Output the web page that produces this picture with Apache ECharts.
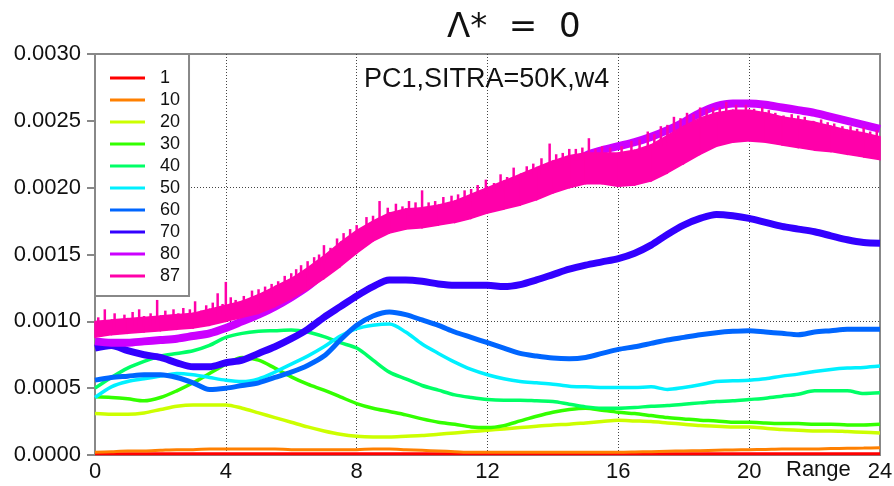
<!DOCTYPE html>
<html>
<head>
<meta charset="utf-8">
<title>PC1, SITRA=50K, w4</title>
<script src="https://cdn.jsdelivr.net/npm/echarts@6/dist/echarts.min.js"></script>
<style>
  html, body { margin: 0; padding: 0; background: #fff; }
  #chart { width: 894px; height: 486px; }
</style>
</head>
<body>
<div id="chart"></div>
<script>
// x positions (Range)
const xs = [0, 0.5, 1, 1.5, 2, 2.5, 3, 3.5, 4, 4.5, 5, 5.5, 6, 6.5, 7, 7.5, 8, 8.5, 9, 9.5, 10, 10.5, 11, 11.5, 12,
  12.5, 13, 13.5, 14, 14.5, 15, 15.5, 16, 16.5, 17, 17.5, 18, 18.5, 19, 19.5, 20, 20.5, 21, 21.5, 22, 22.5, 23, 23.5, 24];

const labels = ["1", "10", "20", "30", "40", "50", "60", "70", "80", "87"];
const colors = ["#ff0000", "#ff8000", "#ccff00", "#33ff00", "#00ff66", "#00f0ff", "#0066ff", "#3300ff", "#cc00ff", "#ff00aa"];
const yTicks = [0, 0.0005, 0.001, 0.0015, 0.002, 0.0025, 0.003];
const xTicks = [0, 4, 8, 12, 16, 20, 24];

const s1 = [0.1e-4, 0.1e-4, 0.1e-4, 0.1e-4, 0.1e-4, 0.1e-4, 0.1e-4, 0.1e-4, 0.1e-4, 0.1e-4, 0.1e-4, 0.1e-4, 0.1e-4,
  0.1e-4, 0.1e-4, 0.1e-4, 0.1e-4, 0.1e-4, 0.1e-4, 0.1e-4, 0.1e-4, 0.1e-4, 0.1e-4, 0.1e-4, 0.1e-4, 0.1e-4, 0.1e-4,
  0.1e-4, 0.1e-4, 0.1e-4, 0.1e-4, 0.1e-4, 0.1e-4, 0.1e-4, 0.1e-4, 0.1e-4, 0.1e-4, 0.1e-4, 0.1e-4, 0.1e-4, 0.1e-4,
  0.1e-4, 0.1e-4, 0.1e-4, 0.1e-4, 0.1e-4, 0.1e-4, 0.1e-4, 0.1e-4];
const s10 = [0.2e-4, 0.25e-4, 0.3e-4, 0.3e-4, 0.35e-4, 0.4e-4, 0.4e-4, 0.45e-4, 0.45e-4, 0.45e-4, 0.45e-4, 0.45e-4, 0.4e-4,
  0.4e-4, 0.4e-4, 0.4e-4, 0.4e-4, 0.45e-4, 0.45e-4, 0.4e-4, 0.35e-4, 0.3e-4, 0.25e-4, 0.2e-4, 0.2e-4, 0.2e-4, 0.2e-4,
  0.2e-4, 0.2e-4, 0.2e-4, 0.2e-4, 0.2e-4, 0.2e-4, 0.22e-4, 0.25e-4, 0.28e-4, 0.3e-4, 0.32e-4, 0.35e-4, 0.38e-4, 0.4e-4,
  0.42e-4, 0.45e-4, 0.45e-4, 0.45e-4, 0.48e-4, 0.5e-4, 0.52e-4, 0.55e-4];
const s20 = [3.1e-4, 3.05e-4, 3.05e-4, 3.15e-4, 3.4e-4, 3.65e-4, 3.75e-4, 3.75e-4, 3.75e-4, 3.5e-4, 3.15e-4, 2.8e-4, 2.45e-4,
  2.1e-4, 1.8e-4, 1.55e-4, 1.4e-4, 1.35e-4, 1.35e-4, 1.4e-4, 1.45e-4, 1.55e-4, 1.65e-4, 1.75e-4, 1.85e-4, 1.95e-4, 2.05e-4,
  2.15e-4, 2.25e-4, 2.3e-4, 2.4e-4, 2.5e-4, 2.6e-4, 2.55e-4, 2.5e-4, 2.4e-4, 2.3e-4, 2.2e-4, 2.15e-4, 2.1e-4, 2.1e-4,
  2.0e-4, 1.9e-4, 1.85e-4, 1.8e-4, 1.8e-4, 1.75e-4, 1.7e-4, 1.65e-4];
const s30 = [4.35e-4, 4.3e-4, 4.2e-4, 4.05e-4, 4.3e-4, 4.8e-4, 5.4e-4, 6.1e-4, 6.8e-4, 7.3e-4, 7.1e-4, 6.5e-4, 5.85e-4,
  5.3e-4, 4.85e-4, 4.35e-4, 3.85e-4, 3.5e-4, 3.25e-4, 3.0e-4, 2.7e-4, 2.45e-4, 2.3e-4, 2.1e-4, 2.05e-4, 2.2e-4, 2.55e-4,
  2.9e-4, 3.2e-4, 3.4e-4, 3.5e-4, 3.35e-4, 3.2e-4, 3.1e-4, 2.95e-4, 2.8e-4, 2.7e-4, 2.6e-4, 2.55e-4, 2.45e-4, 2.45e-4,
  2.4e-4, 2.35e-4, 2.35e-4, 2.3e-4, 2.3e-4, 2.25e-4, 2.25e-4, 2.3e-4];
const s40 = [5.0e-4, 5.8e-4, 6.5e-4, 7.0e-4, 7.4e-4, 7.6e-4, 7.8e-4, 8.2e-4, 8.8e-4, 9.1e-4, 9.25e-4, 9.3e-4, 9.35e-4,
  9.2e-4, 8.85e-4, 8.4e-4, 8.0e-4, 7.1e-4, 6.2e-4, 5.7e-4, 5.2e-4, 4.85e-4, 4.5e-4, 4.3e-4, 4.15e-4, 4.1e-4, 4.1e-4,
  4.05e-4, 4.0e-4, 3.8e-4, 3.6e-4, 3.5e-4, 3.5e-4, 3.55e-4, 3.65e-4, 3.7e-4, 3.8e-4, 3.9e-4, 4.0e-4, 4.05e-4, 4.15e-4,
  4.25e-4, 4.4e-4, 4.55e-4, 4.8e-4, 4.8e-4, 4.8e-4, 4.6e-4, 4.65e-4];
const s50 = [4.3e-4, 5.1e-4, 5.5e-4, 5.7e-4, 5.9e-4, 6.1e-4, 6.0e-4, 5.8e-4, 5.6e-4, 5.5e-4, 5.7e-4, 6.2e-4, 6.8e-4,
  7.4e-4, 8.1e-4, 8.9e-4, 9.45e-4, 9.7e-4, 9.8e-4, 9.2e-4, 8.3e-4, 7.6e-4, 6.95e-4, 6.4e-4, 6.0e-4, 5.7e-4, 5.5e-4,
  5.4e-4, 5.3e-4, 5.15e-4, 5.1e-4, 5.05e-4, 5.05e-4, 5.05e-4, 5.1e-4, 4.9e-4, 5.05e-4, 5.25e-4, 5.5e-4, 5.55e-4, 5.6e-4,
  5.7e-4, 5.9e-4, 6.05e-4, 6.25e-4, 6.4e-4, 6.5e-4, 6.55e-4, 6.65e-4];
const s60 = [5.6e-4, 5.8e-4, 5.9e-4, 6.0e-4, 6.0e-4, 5.8e-4, 5.4e-4, 4.9e-4, 5.0e-4, 5.2e-4, 5.4e-4, 5.8e-4, 6.2e-4,
  6.7e-4, 7.4e-4, 8.6e-4, 9.7e-4, 10.4e-4, 10.7e-4, 10.5e-4, 10.1e-4, 9.7e-4, 9.2e-4, 8.8e-4, 8.4e-4, 8.0e-4, 7.6e-4,
  7.4e-4, 7.25e-4, 7.2e-4, 7.3e-4, 7.6e-4, 7.9e-4, 8.1e-4, 8.35e-4, 8.6e-4, 8.8e-4, 9.0e-4, 9.15e-4, 9.25e-4, 9.3e-4,
  9.2e-4, 9.1e-4, 9.0e-4, 9.2e-4, 9.3e-4, 9.4e-4, 9.4e-4, 9.4e-4];
const s70 = [8.0e-4, 8.2e-4, 7.8e-4, 7.5e-4, 7.3e-4, 6.9e-4, 6.6e-4, 6.6e-4, 6.9e-4, 7.1e-4, 7.6e-4, 8.1e-4, 8.7e-4,
  9.4e-4, 10.3e-4, 11.1e-4, 11.9e-4, 12.6e-4, 13.1e-4, 13.1e-4, 13.0e-4, 12.8e-4, 12.7e-4, 12.7e-4, 12.7e-4, 12.6e-4, 12.75e-4,
  13.1e-4, 13.5e-4, 13.9e-4, 14.2e-4, 14.45e-4, 14.7e-4, 15.1e-4, 15.7e-4, 16.5e-4, 17.2e-4, 17.7e-4, 18.0e-4, 17.9e-4, 17.7e-4,
  17.4e-4, 17.1e-4, 16.9e-4, 16.7e-4, 16.4e-4, 16.1e-4, 15.9e-4, 15.85e-4];
const s80 = [8.5e-4, 8.4e-4, 8.4e-4, 8.5e-4, 8.6e-4, 8.7e-4, 8.9e-4, 9.1e-4, 9.5e-4, 10.0e-4, 10.5e-4, 11.1e-4, 11.8e-4,
  12.6e-4, 13.6e-4, 14.6e-4, 15.6e-4, 16.4e-4, 17.0e-4, 17.3e-4, 17.4e-4, 17.6e-4, 17.9e-4, 18.3e-4, 18.8e-4, 19.3e-4, 19.9e-4,
  20.5e-4, 21.1e-4, 21.7e-4, 22.4e-4, 22.8e-4, 23.1e-4, 23.4e-4, 23.8e-4, 24.3e-4, 24.9e-4, 25.6e-4, 26.1e-4, 26.3e-4, 26.3e-4,
  26.2e-4, 26.0e-4, 25.8e-4, 25.6e-4, 25.3e-4, 25.0e-4, 24.7e-4, 24.4e-4];
// 87 is a noisy band: lower and upper edge
const s87lo = [8.8e-4, 9.0e-4, 9.1e-4, 9.2e-4, 9.3e-4, 9.4e-4, 9.5e-4, 9.7e-4, 10.0e-4, 10.3e-4, 10.6e-4, 11.1e-4, 11.7e-4,
  12.4e-4, 13.2e-4, 14.1e-4, 15.1e-4, 16.0e-4, 16.6e-4, 16.9e-4, 17.0e-4, 17.2e-4, 17.4e-4, 17.7e-4, 18.1e-4, 18.4e-4, 18.7e-4,
  19.1e-4, 19.6e-4, 20.0e-4, 20.3e-4, 20.3e-4, 20.1e-4, 20.2e-4, 20.5e-4, 21.1e-4, 21.8e-4, 22.5e-4, 23.1e-4, 23.4e-4, 23.5e-4,
  23.4e-4, 23.2e-4, 23.0e-4, 22.8e-4, 22.7e-4, 22.5e-4, 22.3e-4, 22.1e-4];
const s87hi = [10.0e-4, 10.1e-4, 10.2e-4, 10.3e-4, 10.4e-4, 10.5e-4, 10.6e-4, 10.9e-4, 11.2e-4, 11.5e-4, 12.0e-4, 12.6e-4, 13.2e-4,
  14.0e-4, 14.9e-4, 15.9e-4, 16.8e-4, 17.5e-4, 18.1e-4, 18.4e-4, 18.5e-4, 18.7e-4, 19.0e-4, 19.5e-4, 20.0e-4, 20.5e-4, 21.0e-4,
  21.5e-4, 22.0e-4, 22.4e-4, 22.6e-4, 22.6e-4, 22.6e-4, 22.8e-4, 23.2e-4, 23.9e-4, 24.6e-4, 25.2e-4, 25.6e-4, 25.8e-4, 25.8e-4,
  25.6e-4, 25.3e-4, 25.1e-4, 24.9e-4, 24.6e-4, 24.3e-4, 24.1e-4, 23.8e-4];
// spikes above the 87 band: x, foot, tip
const spikes87 = [
  [0.1, 9.4e-4, 10.3e-4], [0.3, 9.5e-4, 10.9e-4], [0.6, 9.5e-4, 10.6e-4], [0.9, 9.5e-4, 10.5e-4], [1.15, 9.6e-4, 10.7e-4],
  [1.35, 9.6e-4, 10.9e-4], [1.5, 9.6e-4, 10.4e-4], [1.7, 9.7e-4, 10.6e-4], [1.9, 9.8e-4, 11.6e-4], [2.15, 9.8e-4, 10.8e-4],
  [2.4, 9.9e-4, 10.9e-4], [2.55, 9.9e-4, 10.6e-4], [2.7, 10.0e-4, 11.0e-4], [2.9, 10.0e-4, 10.9e-4], [3.06, 10.0e-4, 11.5e-4],
  [3.25, 10.1e-4, 10.8e-4], [3.4, 10.2e-4, 11.2e-4], [3.6, 10.3e-4, 11.4e-4], [3.75, 10.4e-4, 12.1e-4], [3.9, 10.5e-4, 11.3e-4],
  [4.0, 10.6e-4, 12.95e-4], [4.15, 10.8e-4, 11.8e-4], [4.3, 10.9e-4, 11.6e-4], [4.55, 11.1e-4, 11.9e-4], [4.8, 11.3e-4, 12.3e-4],
  [5.0, 11.5e-4, 12.4e-4], [5.2, 11.7e-4, 12.6e-4], [5.4, 12.0e-4, 12.8e-4], [5.6, 12.2e-4, 13.0e-4], [5.8, 12.5e-4, 13.4e-4],
  [6.0, 12.7e-4, 13.6e-4], [6.15, 12.9e-4, 13.9e-4], [6.3, 13.1e-4, 14.2e-4], [6.5, 13.5e-4, 14.5e-4], [6.7, 13.8e-4, 14.8e-4],
  [6.85, 14.0e-4, 15.0e-4], [7.0, 14.3e-4, 15.7e-4], [7.2, 14.7e-4, 15.5e-4], [7.4, 15.2e-4, 16.2e-4], [7.6, 15.5e-4, 16.6e-4],
  [7.8, 15.9e-4, 16.9e-4], [8.0, 16.2e-4, 17.2e-4], [8.3, 16.7e-4, 17.8e-4], [8.5, 17.0e-4, 17.9e-4], [8.7, 17.2e-4, 19.0e-4],
  [8.95, 17.6e-4, 18.5e-4], [9.2, 17.7e-4, 18.8e-4], [9.4, 17.8e-4, 18.6e-4], [9.6, 17.9e-4, 19.0e-4], [9.8, 17.9e-4, 18.9e-4],
  [10.0, 18.0e-4, 19.8e-4], [10.2, 18.1e-4, 18.9e-4], [10.4, 18.2e-4, 19.0e-4], [10.65, 18.4e-4, 19.3e-4], [10.9, 18.5e-4, 19.4e-4],
  [11.1, 18.7e-4, 19.5e-4], [11.3, 18.8e-4, 19.8e-4], [11.5, 19.0e-4, 19.9e-4], [11.7, 19.2e-4, 20.2e-4], [11.95, 19.4e-4, 20.6e-4],
  [12.2, 19.6e-4, 20.35e-4], [12.4, 19.8e-4, 21.0e-4], [12.6, 20.0e-4, 20.8e-4], [12.8, 20.2e-4, 21.5e-4], [13.0, 20.4e-4, 21.0e-4],
  [13.2, 20.6e-4, 21.6e-4], [13.4, 20.8e-4, 21.8e-4], [13.65, 21.0e-4, 22.2e-4], [13.9, 21.3e-4, 23.3e-4], [14.1, 21.5e-4, 22.5e-4],
  [14.3, 21.7e-4, 22.6e-4], [14.5, 21.8e-4, 22.9e-4], [14.7, 22.0e-4, 22.9e-4], [14.9, 22.0e-4, 23.0e-4], [15.1, 22.1e-4, 23.7e-4],
  [15.3, 22.1e-4, 22.9e-4], [15.5, 22.1e-4, 23.1e-4], [15.75, 22.1e-4, 23.0e-4], [16.1, 22.2e-4, 23.1e-4], [16.4, 22.3e-4, 23.5e-4],
  [16.65, 22.5e-4, 23.6e-4], [16.9, 22.7e-4, 24.2e-4], [17.1, 22.9e-4, 24.0e-4], [17.3, 23.1e-4, 24.6e-4], [17.5, 23.4e-4, 24.7e-4],
  [17.7, 23.7e-4, 25.3e-4], [17.9, 24.0e-4, 25.2e-4], [18.1, 24.2e-4, 25.6e-4], [18.3, 24.4e-4, 25.5e-4], [18.5, 24.6e-4, 26.0e-4],
  [18.7, 24.8e-4, 25.9e-4], [18.9, 25.0e-4, 26.0e-4], [19.1, 25.1e-4, 26.0e-4], [19.3, 25.2e-4, 26.4e-4], [19.6, 25.3e-4, 26.2e-4],
  [19.9, 25.3e-4, 26.2e-4], [20.15, 25.2e-4, 25.9e-4], [20.4, 25.1e-4, 26.0e-4], [20.6, 25.0e-4, 25.8e-4], [20.8, 24.9e-4, 25.6e-4],
  [21.05, 24.8e-4, 25.4e-4], [21.3, 24.7e-4, 25.5e-4], [21.5, 24.6e-4, 25.4e-4], [21.7, 24.5e-4, 25.3e-4], [21.95, 24.4e-4, 25.0e-4],
  [22.2, 24.3e-4, 25.1e-4], [22.4, 24.2e-4, 24.9e-4], [22.6, 24.1e-4, 24.8e-4], [22.85, 24.0e-4, 24.6e-4], [23.1, 23.8e-4, 24.6e-4],
  [23.3, 23.7e-4, 24.4e-4], [23.5, 23.6e-4, 24.5e-4], [23.7, 23.5e-4, 24.2e-4], [23.9, 23.4e-4, 24.3e-4],
];

const lines = [s1, s10, s20, s30, s40, s50, s60, s70, s80];
const widths = [3, 3, 3.5, 3.5, 3.5, 3.5, 5, 7, 8];

function pairs(arr) {
  return xs.map((x, i) => [x, arr[i]]);
}

const series = lines.map((arr, i) => ({
  name: labels[i],
  type: "line",
  data: pairs(arr),
  showSymbol: false,
  smooth: 0.3,
  itemStyle: { color: colors[i] },
  lineStyle: { color: colors[i], width: widths[i] },
}));

// band for 87, drawn as quads between neighbouring points
series.push({
  name: "87",
  type: "custom",
  z: 4,
  data: xs.map((x, i) => [x, s87lo[i], s87hi[i]]),
  encode: { x: 0, y: [1, 2] },
  itemStyle: { color: colors[9] },
  renderItem: function (params, api) {
    const i = params.dataIndex;
    if (i >= xs.length - 1) return;
    const pts = [
      api.coord([xs[i], s87lo[i]]),
      api.coord([xs[i + 1], s87lo[i + 1]]),
      api.coord([xs[i + 1], s87hi[i + 1]]),
      api.coord([xs[i], s87hi[i]]),
    ];
    return {
      type: "polygon",
      shape: { points: pts },
      style: { fill: colors[9], stroke: colors[9], lineWidth: 1.5 },
    };
  },
});
// spikes
series.push({
  name: "87spikes",
  type: "custom",
  z: 4,
  data: spikes87,
  encode: { x: 0, y: [1, 2] },
  itemStyle: { color: colors[9] },
  renderItem: function (params, api) {
    const a = api.coord([api.value(0), api.value(1)]);
    const b = api.coord([api.value(0), api.value(2)]);
    return {
      type: "line",
      shape: { x1: a[0], y1: a[1], x2: b[0], y2: b[1] },
      style: { stroke: colors[9], lineWidth: 2.5 },
    };
  },
});

const chart = echarts.init(document.getElementById("chart"));
const font = "Liberation Sans, Arial, sans-serif";

chart.setOption({
  animation: false,
  title: [
    {
      text: "Λ*  =  0",
      left: 447,
      top: 11,
      padding: 0,
      textStyle: { fontFamily: "DejaVu Sans", fontSize: 34, fontWeight: "normal", color: "#111" },
    },
    {
      text: "PC1,SITRA=50K,w4",
      left: 364,
      top: 66,
      padding: 0,
      textStyle: { fontFamily: font, fontSize: 27, fontWeight: "normal", color: "#111" },
    },
    {
      text: "Range",
      left: 786,
      top: 459,
      padding: 0,
      textStyle: { fontFamily: font, fontSize: 22, fontWeight: "normal", color: "#111" },
    },
  ],
  legend: {
    data: labels,
    orient: "vertical",
    left: 95,
    top: 54,
    icon: "rect",
    itemWidth: 35,
    itemHeight: 3,
    itemGap: 4,
    padding: [15, 9, 11, 15],
    backgroundColor: "#fff",
    borderColor: "#888",
    borderWidth: 2,
    borderRadius: 0,
    textStyle: { fontFamily: font, fontSize: 18, lineHeight: 17.5, color: "#111", padding: [0, 0, 0, 10] },
  },
  grid: {
    left: 95,
    right: 14,
    top: 54,
    bottom: 31,
    show: true,
    borderColor: "#888",
    borderWidth: 2,
    outerBoundsMode: "none",
  },
  xAxis: {
    type: "value",
    min: xTicks[0],
    max: xTicks[xTicks.length - 1],
    interval: 4,
    axisLine: { show: true, lineStyle: { color: "#888", width: 2 } },
    axisTick: { show: false },
    axisLabel: { fontFamily: font, fontSize: 22, color: "#111", margin: 6 },
    splitLine: {
      show: true,
      showMinLine: false,
      showMaxLine: false,
      lineStyle: { color: "#444", width: 1, type: [1, 2] },
    },
  },
  yAxis: [
    {
      type: "value",
      min: yTicks[0],
      max: yTicks[yTicks.length - 1],
      interval: 0.0005,
      axisLine: { show: true, lineStyle: { color: "#888", width: 2 } },
      axisTick: { show: true, length: 8, lineStyle: { color: "#888", width: 2 } },
      axisLabel: {
        fontFamily: font,
        fontSize: 22,
        color: "#111",
        margin: 14,
        formatter: (v) => v.toFixed(4),
      },
      splitLine: { show: false },
    },
    {
      type: "value",
      min: 0,
      max: 0.003,
      interval: 0.001,
      position: "left",
      axisLine: { show: false },
      axisTick: { show: false },
      axisLabel: { show: false },
      splitLine: {
        show: true,
        showMinLine: false,
        showMaxLine: false,
        lineStyle: { color: "#444", width: 1, type: [1, 2] },
      },
    },
  ],
  series: series,
});
</script>
</body>
</html>
